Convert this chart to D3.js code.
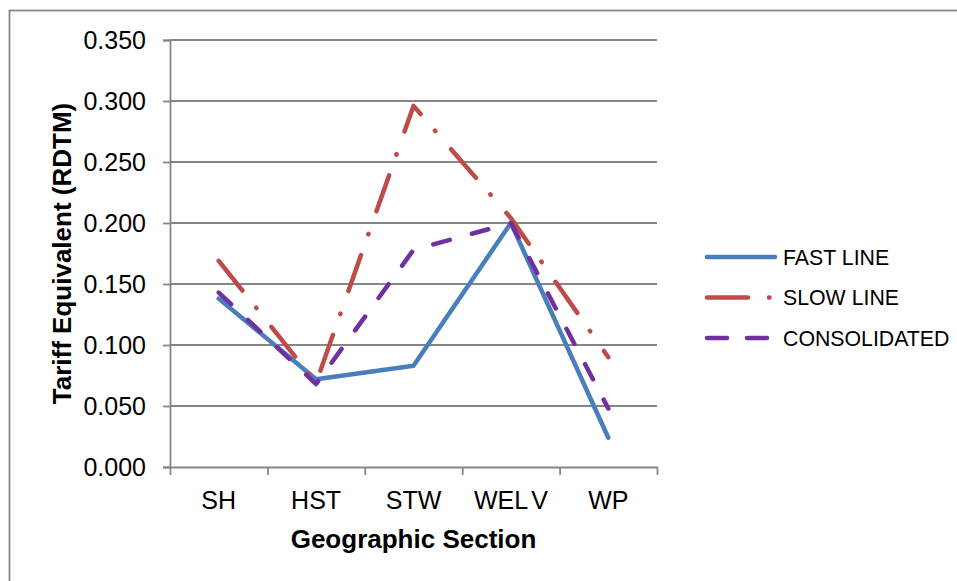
<!DOCTYPE html>
<html>
<head>
<meta charset="utf-8">
<script src="https://cdn.jsdelivr.net/npm/d3@7"></script>
<style>
  html, body { margin: 0; padding: 0; background: #fff; }
  svg { display: block; font-family: Arial, "Liberation Sans", sans-serif; }
</style>
</head>
<body>
<svg id="chart" width="957" height="581"></svg>
<script>
// Categories along the x axis
const sections = ["SH", "HST", "STW", "WEL V", "WP"];

// Tariff equivalent per section, one array per series
const fastLine = [0.138, 0.072, 0.083, 0.200, 0.024];
const slowLine = [0.169, 0.069, 0.296, 0.204, 0.090];
const consolidated = [0.143, 0.068, 0.178, 0.200, 0.048];

const yTicks = [0, 0.05, 0.1, 0.15, 0.2, 0.25, 0.3, 0.35];

const seriesNames = ["FAST LINE", "SLOW LINE", "CONSOLIDATED"];

const series = [
  { name: seriesNames[0], values: fastLine, color: "#4A7EBB", dash: null },
  { name: seriesNames[1], values: slowLine, color: "#BE4B48", dash: "38,22,0.5,24" },
  { name: seriesNames[2], values: consolidated, color: "#7030A0", dash: "17,23" }
];

const svg = d3.select("#chart");
const gridColor = "#868686";

// Outer frame
svg.append("rect")
  .attr("x", 9.5).attr("y", 10.5)
  .attr("width", 960).attr("height", 590)
  .attr("fill", "none").attr("stroke", gridColor).attr("stroke-width", 1.8);

const plot = { left: 170, right: 657, top: 40, bottom: 467 };

const x = d3.scaleBand().domain(sections).range([plot.left, plot.right]);
const y = d3.scaleLinear().domain([0, 0.35]).range([plot.bottom, plot.top]);

// Horizontal gridlines
svg.append("g")
  .selectAll("line")
  .data(yTicks.filter(d => d > 0))
  .join("line")
  .attr("x1", plot.left).attr("x2", plot.right)
  .attr("y1", d => y(d)).attr("y2", d => y(d))
  .attr("stroke", gridColor).attr("stroke-width", 1.8);

// Y axis
const yAxis = svg.append("g")
  .attr("transform", `translate(${plot.left},0)`)
  .call(d3.axisLeft(y).tickValues(yTicks).tickFormat(d3.format(".3f")).tickSize(7).tickPadding(17));
yAxis.select(".domain").attr("stroke", gridColor).attr("stroke-width", 1.8);
yAxis.selectAll(".tick line").attr("stroke", gridColor).attr("stroke-width", 1.8);
yAxis.selectAll(".tick text")
  .attr("font-size", 25).attr("fill", "#000")
  .attr("font-family", "Arial, 'Liberation Sans', sans-serif");

// X axis: tick marks at band boundaries
const edges = d3.scaleLinear().domain([0, sections.length]).range([plot.left, plot.right]);
const xTickAxis = svg.append("g")
  .attr("transform", `translate(0,${plot.bottom})`)
  .call(d3.axisBottom(edges).tickValues(d3.range(sections.length + 1)).tickFormat("").tickSize(8).tickSizeOuter(0));
xTickAxis.select(".domain").attr("stroke", gridColor).attr("stroke-width", 1.8);
xTickAxis.selectAll(".tick line").attr("stroke", gridColor).attr("stroke-width", 1.8);

// X axis: category labels centred in each band
const xLabelAxis = svg.append("g")
  .attr("transform", `translate(0,${plot.bottom})`)
  .call(d3.axisBottom(x).tickSize(0).tickPadding(24));
xLabelAxis.select(".domain").remove();
xLabelAxis.selectAll(".tick text")
  .attr("font-size", 25).attr("fill", "#000")
  .attr("font-family", "Arial, 'Liberation Sans', sans-serif")
  .attr("word-spacing", d => d.includes(" ") ? -3 : null);

// Axis titles
svg.append("text")
  .attr("x", (plot.left + plot.right) / 2).attr("y", 548)
  .attr("text-anchor", "middle")
  .attr("font-size", 26).attr("font-weight", "bold")
  .text("Geographic Section");

svg.append("text")
  .attr("transform", `translate(71,${(plot.top + plot.bottom) / 2}) rotate(-90)`)
  .attr("text-anchor", "middle")
  .attr("font-size", 26).attr("font-weight", "bold")
  .text("Tariff Equivalent (RDTM)");

// Series lines
const line = d3.line()
  .x((d, i) => x(sections[i]) + x.bandwidth() / 2)
  .y(d => y(d));

svg.append("g")
  .selectAll("path")
  .data(series)
  .join("path")
  .attr("d", d => line(d.values))
  .attr("fill", "none")
  .attr("stroke", d => d.color)
  .attr("stroke-width", 4.5)
  .attr("stroke-linecap", "round")
  .attr("stroke-linejoin", "round")
  .attr("stroke-dasharray", d => d.dash);

// Legend
const legend = svg.append("g")
  .selectAll("g")
  .data(series)
  .join("g")
  .attr("transform", (d, i) => `translate(0,${257 + i * 40.5})`);

legend.append("line")
  .attr("x1", 707).attr("x2", 775)
  .attr("y1", 0).attr("y2", 0)
  .attr("stroke", d => d.color)
  .attr("stroke-width", 4.5)
  .attr("stroke-linecap", "round")
  .attr("stroke-dasharray", (d, i) => i === 1 ? "41,21,0.5,30" : i === 2 ? "20,20" : null);

legend.append("text")
  .attr("x", 783).attr("y", 0)
  .attr("dy", "0.36em")
  .attr("font-size", 21.3)
  .attr("fill", "#000")
  .text(d => d.name);
</script>
</body>
</html>
